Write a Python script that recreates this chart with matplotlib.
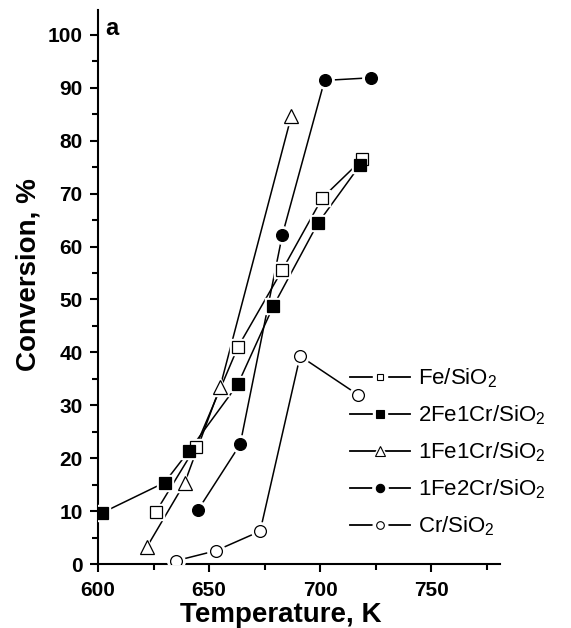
"""Conversion vs temperature for Fe/Cr on SiO2 catalysts (panel a)."""

import matplotlib
matplotlib.use("Agg")
import matplotlib.pyplot as plt
from matplotlib.legend_handler import HandlerTuple
from matplotlib.ticker import MultipleLocator

# data
fe_T = [626, 644, 663, 683, 701, 719]
fe_X = [9.8, 22.2, 41.0, 55.6, 69.2, 76.5]

fe2cr1_T = [602, 630, 641, 663, 679, 699, 718]
fe2cr1_X = [9.7, 15.4, 21.4, 34.0, 48.8, 64.4, 75.4]

fe1cr1_T = [622, 639, 655, 687]
fe1cr1_X = [3.2, 15.3, 33.5, 84.6]

fe1cr2_T = [645, 664, 683, 702, 723]
fe1cr2_X = [10.2, 22.6, 62.2, 91.4, 91.9]

cr_T = [635, 653, 673, 691, 717]
cr_X = [0.6, 2.5, 6.2, 39.3, 32.0]

labels = ["Fe/SiO$_2$", "2Fe1Cr/SiO$_2$", "1Fe1Cr/SiO$_2$", "1Fe2Cr/SiO$_2$", "Cr/SiO$_2$"]

# marker, face colour, size in plot, size in legend
SERIES = (
    (fe_T, fe_X, "s", "white", 8.0, 5.0),
    (fe2cr1_T, fe2cr1_X, "s", "black", 8.0, 5.5),
    (fe1cr1_T, fe1cr1_X, "^", "white", 9.5, 7.0),
    (fe1cr2_T, fe1cr2_X, "o", "black", 8.5, 6.0),
    (cr_T, cr_X, "o", "white", 8.5, 5.5),
)

plt.rcParams["font.family"] = ["Liberation Sans", "DejaVu Sans"]
plt.rcParams["mathtext.default"] = "regular"

fig = plt.figure(figsize=(5.71, 6.28), dpi=100)
ax = fig.add_axes([0.1716, 0.1019, 0.7041, 0.8821])

handles = []
for (temps, conv, marker, face, size, leg_size), label in zip(SERIES, labels):
    ax.plot(temps, conv, color="black", linewidth=1.1, zorder=2)
    # white halo so the line stops short of the marker
    ax.plot(temps, conv, linestyle="none", marker=marker, markersize=size + 4,
            markerfacecolor="white", markeredgecolor="white", zorder=3)
    ax.plot(temps, conv, linestyle="none", marker=marker, markersize=size,
            markerfacecolor=face, markeredgecolor="black", markeredgewidth=0.9, zorder=4)
    h_line = plt.Line2D([], [], color="black", linewidth=1.3)
    h_halo = plt.Line2D([], [], linestyle="none", marker=marker, markersize=leg_size + 5,
                        markerfacecolor="white", markeredgecolor="white")
    h_mark = plt.Line2D([], [], linestyle="none", marker=marker, markersize=leg_size,
                        markerfacecolor=face, markeredgecolor="black", markeredgewidth=0.8)
    handles.append((h_line, h_halo, h_mark))

ax.set_xlim(600, 781)
ax.set_ylim(0, 104.7)
ax.xaxis.set_major_locator(MultipleLocator(50))
ax.xaxis.set_minor_locator(MultipleLocator(25))
ax.yaxis.set_major_locator(MultipleLocator(10))
ax.yaxis.set_minor_locator(MultipleLocator(5))

for side in ("top", "right"):
    ax.spines[side].set_visible(False)
for side in ("left", "bottom"):
    ax.spines[side].set_linewidth(1.5)

ax.tick_params(which="major", direction="out", length=6, width=1.5, labelsize=15)
ax.tick_params(which="minor", direction="out", length=4, width=1.5)
ax.tick_params(axis="x", which="major", pad=6)
ax.tick_params(axis="y", which="major", pad=5)
for lbl in ax.get_xticklabels() + ax.get_yticklabels():
    lbl.set_fontweight("bold")

ax.set_xlabel("Temperature, K", fontsize=20, fontweight="bold")
ax.set_ylabel("Conversion, %", fontsize=20, fontweight="bold")
ax.xaxis.set_label_coords(0.455, -0.068)
ax.yaxis.set_label_coords(-0.14, 0.522)

ax.text(0.017, 0.955, "a", transform=ax.transAxes, fontsize=17, fontweight="bold",
        va="baseline", ha="left")

ax.legend(handles, labels, handler_map={tuple: HandlerTuple(ndivide=1)},
          loc="lower left", bbox_to_anchor=(0.627, 0.047), frameon=False,
          fontsize=16, handlelength=2.7, handletextpad=0.36, labelspacing=0.6,
          borderpad=0.0, borderaxespad=0.0)

fig.savefig("out.png", dpi=100)
